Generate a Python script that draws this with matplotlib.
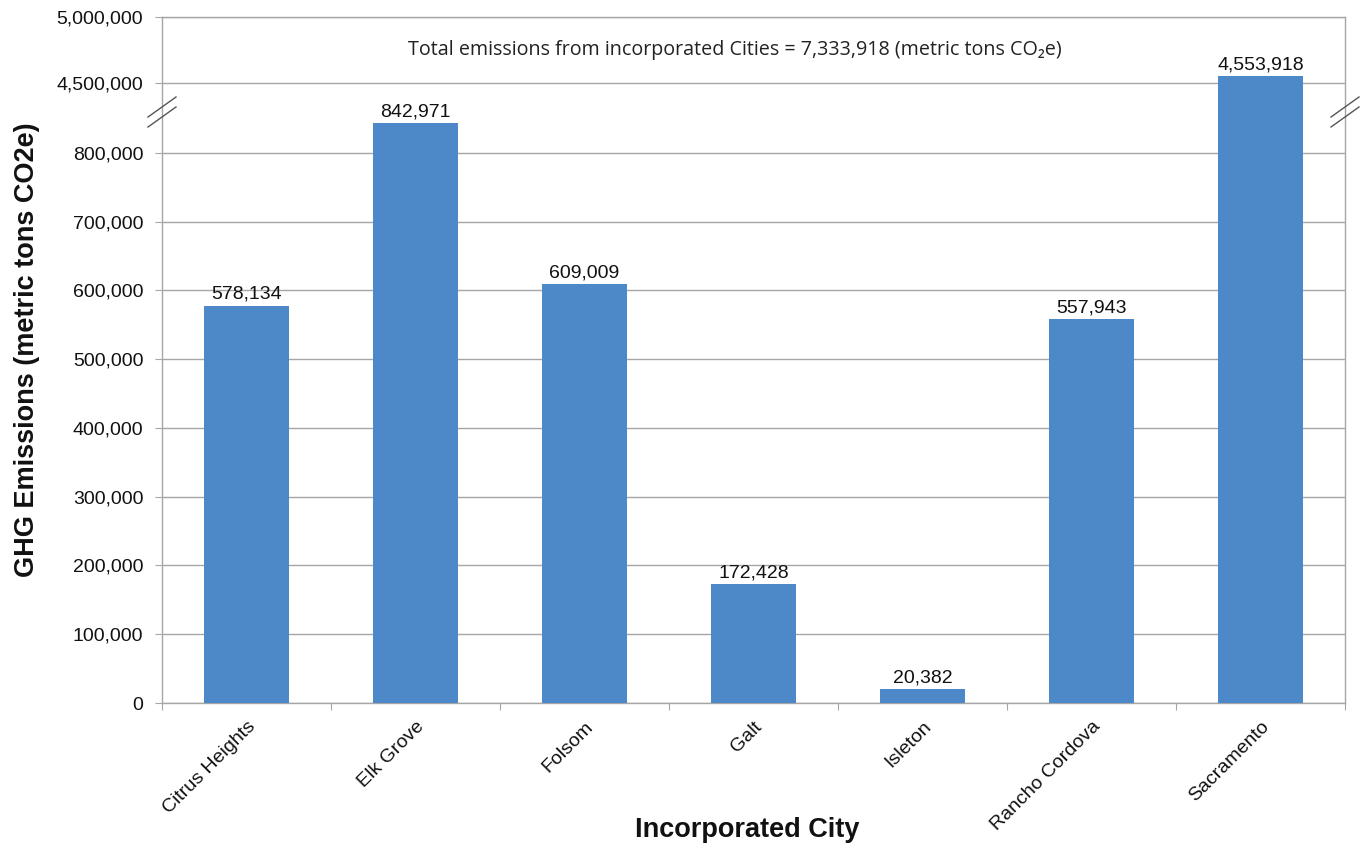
import matplotlib
matplotlib.use("Agg")
import matplotlib.pyplot as plt
import numpy as np

cities = ["Citrus Heights", "Elk Grove", "Folsom", "Galt", "Isleton", "Rancho Cordova", "Sacramento"]
emissions = [578134, 842971, 609009, 172428, 20382, 557943, 4553918]
low_ticks = [0, 100000, 200000, 300000, 400000, 500000, 600000, 700000, 800000]
high_ticks = [4500000, 5000000]
total_text = "Total emissions from incorporated Cities = 7,333,918 (metric tons CO\u2082e)"

plt.rcParams['font.family'] = ['Liberation Sans', 'DejaVu Sans']

W, H = 1368, 850
fig = plt.figure(figsize=(W / 100, H / 100), dpi=100)
left, right = 162 / W, 1345 / W
top_y, brk_y, bot_y = 17 / H, 110 / H, 703 / H
ax_hi = fig.add_axes([left, 1 - brk_y, right - left, brk_y - top_y])
ax_lo = fig.add_axes([left, 1 - bot_y, right - left, bot_y - brk_y])

bar_color = "#4d88c9"
grid_color = "#a6a6a6"
x = np.arange(len(cities))

for ax in (ax_hi, ax_lo):
    ax.bar(x, emissions, width=0.5, color=bar_color, zorder=3)
    ax.set_xlim(-0.5, len(cities) - 0.5)
    ax.grid(axis='y', color=grid_color, linewidth=1.0, zorder=0)
    for s in ax.spines.values():
        s.set_color(grid_color)
        s.set_linewidth(1.0)
    ax.tick_params(axis='y', colors=grid_color, labelcolor='#111111', labelsize=14, length=5, pad=8.5)

lo_max = 862500
hi_min = 4295000
ax_lo.set_ylim(0, lo_max)
ax_hi.set_ylim(hi_min, 5000000)
ax_lo.set_yticks(low_ticks)
ax_lo.set_yticklabels([f"{v:,}" for v in low_ticks])
ax_hi.set_yticks(high_ticks)
ax_hi.set_yticklabels([f"{v:,}" for v in high_ticks])

ax_hi.spines['bottom'].set_visible(False)
ax_lo.spines['top'].set_visible(False)
ax_hi.tick_params(axis='x', bottom=False, labelbottom=False)

ax_lo.set_xticks(np.arange(-0.5, len(cities), 1), minor=False)
ax_lo.set_xticklabels([])
ax_lo.tick_params(axis='x', colors=grid_color, length=5)
ax_lo.set_xticks(x, minor=True)
ax_lo.set_xticklabels(cities, minor=True, rotation=45, ha='right', rotation_mode='anchor',
                      fontsize=14, color='#111111')
ax_lo.tick_params(axis='x', which='minor', length=0, pad=11)

for i, v in enumerate(emissions):
    ax = ax_hi if v > lo_max else ax_lo
    ax.annotate(f"{v:,}", (i, v), xytext=(0, 2), textcoords='offset points',
                ha='center', va='bottom', fontsize=14, color='#111111', zorder=5)

ax_hi.text((735 - 162) / (1345 - 162), 0.65, total_text, transform=ax_hi.transAxes, ha='center', va='center',
           fontsize=14.2, color='#222222', family=['Open Sans', 'DejaVu Sans'])

def brk(xpix, ypix):
    for dy in (-5, 5):
        x0, x1 = (xpix - 14) / W, (xpix + 14) / W
        y0, y1 = 1 - (ypix + dy + 10) / H, 1 - (ypix + dy - 10) / H
        fig.add_artist(plt.Line2D([x0, x1], [y0, y1], color='#555555', lw=1.0))

brk(162, 112)
brk(1345, 112)

fig.text(27 / W, 1 - 350 / H, "GHG Emissions (metric tons CO2e)", rotation=90, ha='center', va='center',
         fontsize=19.5, fontweight='bold', color='#111111')
fig.text(747 / W, 1 - 830 / H, "Incorporated City", ha='center', va='center',
         fontsize=19.5, fontweight='bold', color='#111111')

fig.savefig("out.png", dpi=100)
